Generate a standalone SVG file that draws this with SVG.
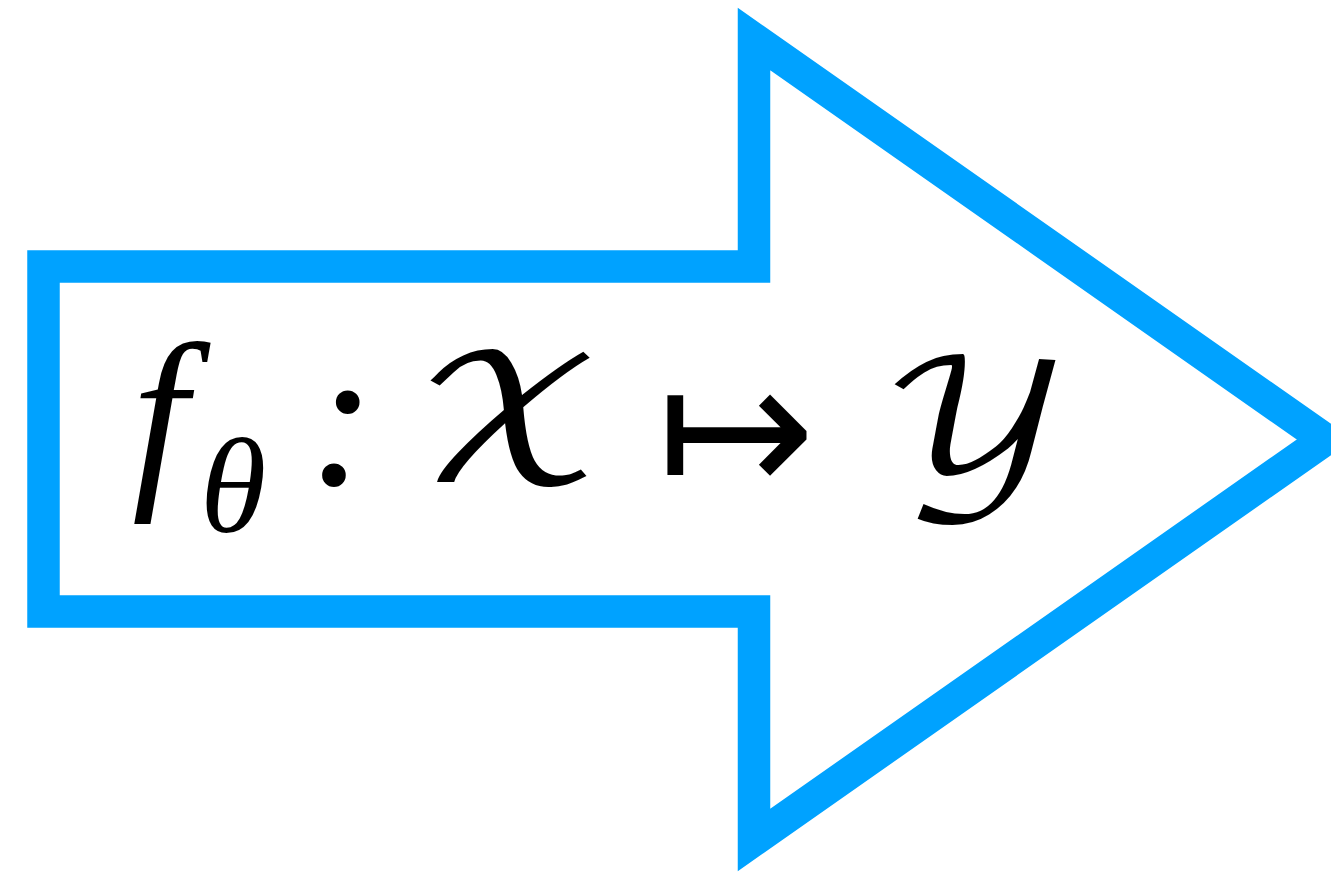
<svg xmlns="http://www.w3.org/2000/svg" width="1331" height="875" viewBox="0 0 1331 875">
<style>
.arrow{fill:#ffffff;stroke:#00A2FF;stroke-width:32.5;stroke-linejoin:miter;stroke-miterlimit:10}
.m{font-family:"Liberation Serif","DejaVu Serif",serif;font-style:italic;fill:#000}
.s{font-family:"DejaVu Math TeX Gyre","DejaVu Serif","DejaVu Sans",serif;fill:#000}
.r{font-family:"DejaVu Sans","Liberation Serif",serif;fill:#000}
</style>
<rect width="1331" height="875" fill="#ffffff"/>
<g id="arrow-node">
<polygon class="arrow" points="43.5,266.5 754,266.5 754,39 1325,439.5 754,840 754,611.5 43.5,611.5"/>
</g>
<g id="formula">
<text class="m" x="132" y="482" font-size="200">f</text>
<text class="m" x="200" y="532" font-size="135">θ</text>
<text class="m" x="342" y="484" font-size="200" font-style="normal" text-anchor="middle">:</text>
<text class="s" transform="translate(510,481) scale(1.16,1)" x="0" y="0" font-size="172" text-anchor="middle">𝒳</text>
<text class="r" x="736" y="495" font-size="190" text-anchor="middle">↦</text>
<text class="s" transform="translate(975,481) scale(1.19,1)" x="0" y="0" font-size="164" text-anchor="middle">𝒴</text>
</g>
</svg>
